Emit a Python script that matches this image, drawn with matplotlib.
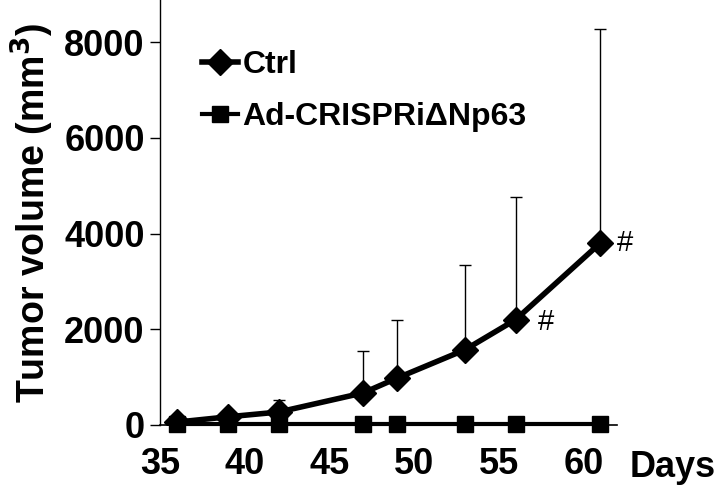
import matplotlib.pyplot as plt
import numpy as np

days = [36, 39, 42, 47, 49, 53, 56, 61]
ctrl = [60, 170, 270, 670, 980, 1570, 2200, 3800]
ctrl_err = [0, 0, 250, 880, 1220, 1770, 2570, 4480]
ad = [10, 10, 10, 10, 10, 10, 10, 10]
yticks = [0, 2000, 4000, 6000, 8000]
xticks = [35, 40, 45, 50, 55, 60]

plt.rcParams['font.family'] = ['Liberation Sans', 'DejaVu Sans']

fig = plt.figure(figsize=(7.16, 4.9), dpi=100)
ax = fig.add_axes([0.2235, 0.1327, 0.862 - 0.2235, 0.8673])

ax.errorbar(days, ctrl, yerr=[np.zeros(len(ctrl_err)), ctrl_err], fmt='none',
            ecolor='black', elinewidth=1, capsize=4, capthick=1, zorder=1)
ax.plot(days, ctrl, color='black', lw=4, marker='D', markersize=13,
        label='Ctrl', zorder=3)
ax.plot(days, ad, color='black', lw=3, marker='s', markersize=11,
        label='Ad-CRISPRi\u0394Np63', zorder=4, clip_on=False)

ax.text(57.3, 2150, '#', fontsize=21, va='center', ha='left')
ax.text(62.0, 3800, '#', fontsize=21, va='center', ha='left')

ax.set_xlim(35, 62)
ax.set_ylim(0, 8880)
ax.set_xticks(xticks)
ax.set_yticks(yticks)
ax.tick_params(axis='x', length=0, pad=16, labelsize=26)
ax.tick_params(axis='y', length=7, width=1, direction='out', pad=4, labelsize=26)
for lab in ax.get_xticklabels() + ax.get_yticklabels():
    lab.set_fontweight('bold')

ax.spines['top'].set_visible(False)
ax.spines['right'].set_visible(False)
ax.spines['left'].set_linewidth(1)
ax.spines['bottom'].set_linewidth(1.2)

ax.set_ylabel('Tumor volume (mm$^\\mathbf{3}$)', fontsize=27, fontweight='bold', labelpad=6)
fig.text(0.88, 0.045, 'Days', fontsize=26, fontweight='bold', ha='left', va='center')

leg = ax.legend(loc='upper left', bbox_to_anchor=(0.03, 0.95), frameon=False,
                handlelength=1.1, handletextpad=0.15, labelspacing=0.7,
                prop={'size': 23, 'weight': 'bold'})

fig.savefig('out.png', dpi=100)
